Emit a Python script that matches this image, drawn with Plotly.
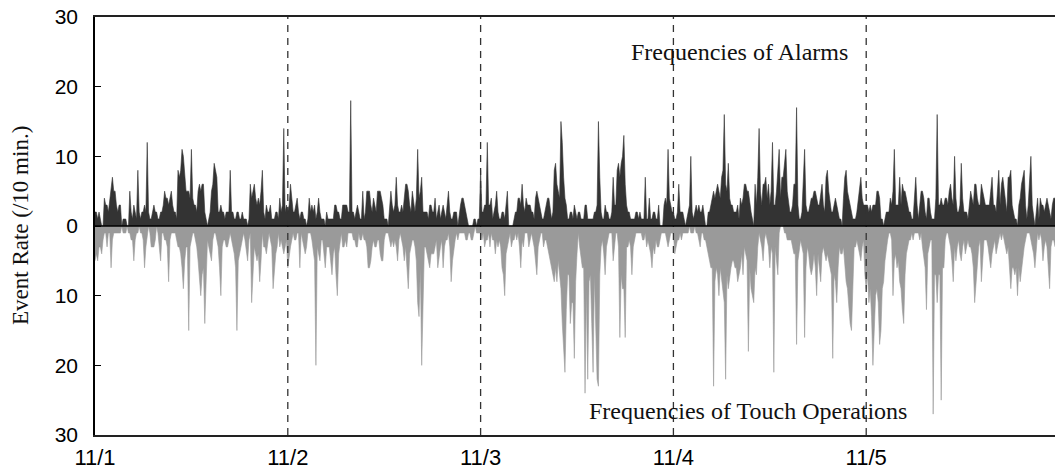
import pandas as pd
import plotly.graph_objects as go

# Alarm counts per 10-minute bin (one list per day, 144 bins each)
alarms_d1 = [2,2,1,2,1,0,0,4,3,3, 2,4,6,7,5,5,3,2,3,3, 0,1,1,1,0,0,5,2,1,3,
             2,1,8,2,1,2,2,3,2,12, 2,1,1,2,3,2,2,1,1,2, 2,3,5,4,4,3,4,5,3,2,
             2,1,8,7,8,11,10,8,5,5, 5,4,11,4,3,3,2,5,6,5, 6,6,2,1,0,1,2,5,6,9,
             8,7,2,2,3,2,2,1,2,2, 2,8,2,2,1,1,2,2,1,1, 2,1,1,1,0,1,6,4,5,6,
             4,3,4,3,5,8,2,1,3,2, 2,3,1,1,1,2,2,1,4,2, 3,14,2,3]
alarms_d2 = [2,3,6,4,2,2,3,4,2,1, 2,2,1,1,0,1,4,2,3,2, 3,1,2,4,2,1,1,1,0,2,
             1,1,1,1,1,3,3,2,2,1, 1,3,3,3,3,2,2,18,2,2, 1,2,3,2,1,1,5,1,2,5,
             5,5,3,2,4,3,2,5,5,5, 4,3,1,1,1,0,2,5,3,2, 3,7,3,2,2,3,2,4,6,6,
             5,3,2,5,3,2,4,11,4,5, 7,2,2,2,2,1,3,3,2,2, 4,1,2,3,1,2,3,2,1,3,
             5,2,1,1,2,2,2,0,2,3, 4,4,3,2,1,0,0,0,0,1, 1,0,1,1]
alarms_d3 = [8,2,2,3,3,12,3,3,4,1, 2,3,5,2,1,1,2,2,1,3, 5,0,0,0,0,1,2,2,4,4,
             3,6,3,2,4,3,3,3,2,2, 1,4,5,4,3,2,1,1,2,3, 4,4,2,1,2,8,9,6,5,4,
             15,12,7,4,3,1,1,2,2,1, 3,2,1,2,2,1,1,1,3,3, 1,1,1,1,1,2,2,3,15,7,
             2,1,1,3,2,2,1,1,2,7, 3,3,8,9,7,9,10,13,6,3, 2,2,1,1,1,1,2,2,1,2,
             1,1,1,7,1,1,4,1,1,2, 2,1,1,3,0,0,0,3,4,3, 11,4,3,2]
alarms_d4 = [2,1,1,2,6,2,2,2,1,0, 1,2,3,10,2,1,2,3,2,3, 2,2,3,1,0,0,2,2,3,4,
             5,4,5,6,5,4,7,8,16,6, 5,9,4,3,3,2,2,2,3,1, 4,3,4,6,6,5,5,3,2,1,
             0,6,3,7,14,5,3,6,6,7, 4,6,3,5,12,3,3,5,8,11, 4,7,7,9,11,5,3,2,2,3,
             6,6,17,3,1,1,2,6,11,3, 2,2,3,4,4,5,5,4,3,3, 5,6,3,2,7,8,5,3,2,2,
             3,4,3,2,1,1,0,4,7,8, 5,4,3,2,1,1,1,2,4,5, 7,4,3,3]
alarms_d5 = [3,3,2,3,2,3,3,3,5,5, 4,1,1,0,1,2,2,2,4,3, 5,11,3,3,3,7,3,6,5,5,
             4,3,2,2,1,1,5,7,3,1, 3,5,5,4,2,1,4,4,2,1, 1,1,4,16,3,3,4,3,3,4,
             4,3,5,6,4,3,10,4,2,2, 3,9,4,2,2,2,1,3,5,4, 3,6,6,4,3,3,6,5,4,3,
             3,3,3,5,7,3,3,2,6,8, 3,6,7,5,3,2,7,7,8,3, 2,1,1,0,3,4,6,7,8,3,
             1,3,6,10,3,1,0,2,4,1, 4,3,3,2,3,4,3,2,1,3, 4,4,3,3]

# Touch-operation counts per 10-minute bin (plotted downward)
touch_d1 = [5,4,5,3,3,4,2,1,1,3, 1,1,6,2,1,1,1,1,1,1, 0,1,1,1,0,1,1,2,2,5,
            2,1,1,0,1,1,2,6,3,1, 0,1,3,3,3,2,0,1,3,5, 1,1,2,2,3,8,2,1,1,1,
            1,2,3,3,4,6,9,5,3,3, 15,3,2,1,1,2,3,5,7,10, 7,6,14,6,2,3,4,5,2,1,
            1,2,3,6,10,3,2,2,3,3, 2,1,2,3,4,6,15,5,4,3, 2,1,2,4,5,2,1,11,6,3,
            4,5,4,8,5,1,3,3,4,2, 1,2,3,9,6,4,3,1,3,2, 3,4,3,2]
touch_d2 = [6,4,3,2,1,2,2,1,1,6, 1,2,3,4,3,1,1,1,2,4, 5,20,3,4,5,2,2,4,6,3,
            3,3,5,7,4,3,7,10,4,2, 1,3,3,2,3,1,1,1,1,2, 2,3,3,1,2,2,1,2,2,3,
            6,6,5,3,2,3,3,2,2,4, 5,5,2,1,1,1,2,3,2,3, 2,3,5,2,1,2,3,5,3,6,
            9,4,3,2,2,3,5,11,13,6, 20,11,3,3,4,5,6,4,4,4, 3,2,6,4,3,2,6,3,2,2,
            1,3,8,5,3,2,1,2,1,1, 1,1,1,2,2,1,1,2,2,1, 0,1,1,1]
touch_d3 = [1,2,1,3,2,2,1,3,1,2, 2,4,2,3,2,3,6,7,10,4, 3,2,1,3,2,2,1,2,1,3,
            6,2,3,1,1,1,3,2,1,2, 3,5,7,3,2,1,1,3,2,2, 3,4,5,6,7,8,6,8,5,7,
            9,14,18,21,12,7,7,14,11,11, 19,8,4,1,3,5,6,6,24,9, 22,8,7,14,21,7,15,22,23,7,
            3,2,4,7,3,2,1,1,1,5, 3,1,1,3,16,7,9,9,16,3, 3,2,3,7,3,2,1,1,1,1,
            1,2,2,1,3,2,3,4,6,3, 4,2,3,3,2,1,1,1,1,2, 3,2,1,1]
touch_d4 = [1,4,3,2,2,1,2,1,1,1, 1,1,0,1,1,1,0,1,1,2, 3,1,1,2,2,3,4,5,6,6,
            23,8,6,7,10,6,8,9,11,22, 7,9,7,6,5,5,6,6,8,7, 6,4,7,3,4,5,18,6,9,10,
            11,6,7,3,1,2,3,5,2,1, 2,3,6,3,4,21,3,5,7,1, 0,0,0,1,1,2,2,2,2,3,
            4,4,17,5,3,2,3,4,16,6, 3,4,6,7,6,4,6,10,4,6, 8,4,3,4,5,4,5,6,7,19,
            7,8,11,6,3,4,4,3,6,8, 9,12,14,15,8,3,3,2,3,4, 5,3,2,7]
touch_d5 = [9,7,11,9,13,20,15,10,9,11, 17,15,9,8,5,3,2,1,1,2, 10,5,4,6,5,8,9,12,14,7,
            4,3,2,2,1,2,1,1,1,1, 2,1,3,5,6,12,4,3,2,2, 27,7,7,11,7,7,25,6,6,2,
            1,1,2,3,5,8,3,5,3,2, 4,5,3,2,4,3,2,3,3,4, 6,11,8,5,3,2,8,5,2,2,
            2,3,5,6,4,3,2,4,3,2, 1,2,1,2,3,4,3,6,9,6, 6,7,6,10,6,8,6,5,3,2,
            1,1,1,2,3,4,6,3,1,2, 1,2,5,3,2,3,6,9,3,2, 2,3,3,2]

alarms = alarms_d1 + alarms_d2 + alarms_d3 + alarms_d4 + alarms_d5
touch = touch_d1 + touch_d2 + touch_d3 + touch_d4 + touch_d5
times = pd.date_range("2010-11-01 00:00", periods=len(alarms), freq="10min")

day_ticks = ["2010-11-01", "2010-11-02", "2010-11-03", "2010-11-04", "2010-11-05"]
day_labels = ["11/1", "11/2", "11/3", "11/4", "11/5"]
divider_days = ["2010-11-02", "2010-11-03", "2010-11-04", "2010-11-05"]
y_tickvals = [-30, -20, -10, 0, 10, 20, 30]
y_ticktext = ["30", "20", "10", "0", "10", "20", "30"]

fig = go.Figure()
fig.add_trace(go.Scatter(
    x=times, y=alarms, mode="lines", fill="tozeroy",
    line=dict(color="#333333", width=0.6), fillcolor="#333333",
    showlegend=False, hoverinfo="skip"))
fig.add_trace(go.Scatter(
    x=times, y=[-v for v in touch], mode="lines", fill="tozeroy",
    line=dict(color="#9a9a9a", width=0.6), fillcolor="#9a9a9a",
    showlegend=False, hoverinfo="skip"))

shapes = []
for d in divider_days:
    shapes.append(dict(type="line", xref="x", yref="paper", x0=d, x1=d, y0=0, y1=1,
                       line=dict(color="#333333", width=1.3, dash="7px,6px"), layer="above"))
shapes.append(dict(type="line", xref="paper", yref="y", x0=0, x1=1, y0=0, y1=0,
                   line=dict(color="#000000", width=1.5), layer="above"))
fig.update_layout(shapes=shapes)

serif = "Liberation Serif, Times New Roman, serif"
sans = "Liberation Sans, Arial, sans-serif"

fig.add_annotation(text="Frequencies of Alarms", xref="paper", yref="paper",
                   x=0.6715, y=0.916, xanchor="center", yanchor="middle", showarrow=False,
                   font=dict(family=serif, size=24, color="#111111"))
fig.add_annotation(text="Frequencies of Touch Operations", xref="paper", yref="paper",
                   x=0.6797, y=0.057, xanchor="center", yanchor="middle", showarrow=False,
                   font=dict(family=serif, size=24, color="#111111"))
fig.add_annotation(text="Event Rate (/10 min.)", xref="paper", yref="paper",
                   x=(20 - 95) / 960, y=0.5, xanchor="center", yanchor="middle",
                   textangle=-90, showarrow=False,
                   font=dict(family=serif, size=23, color="#111111"))

fig.update_xaxes(
    type="date", range=["2010-11-01 00:00", "2010-11-05 23:30"],
    tickvals=day_ticks, ticktext=day_labels, ticks="",
    showline=True, linecolor="#222222", linewidth=1.5, mirror=True,
    showgrid=False, zeroline=False,
    tickfont=dict(family=sans, size=22, color="#000000"), ticklabelstandoff=2)
fig.update_yaxes(
    range=[-30, 30], tickvals=y_tickvals, ticktext=y_ticktext,
    ticks="inside", ticklen=6, tickwidth=1.2, tickcolor="#000000",
    showline=True, linecolor="#000000", linewidth=1.5,
    showgrid=False, zeroline=False,
    tickfont=dict(family=sans, size=21, color="#000000"), ticklabelstandoff=11)

fig.update_layout(
    width=1055, height=472,
    margin=dict(l=95, r=0, t=17, b=37),
    paper_bgcolor="#ffffff", plot_bgcolor="#ffffff")

fig.write_html("out.html")
